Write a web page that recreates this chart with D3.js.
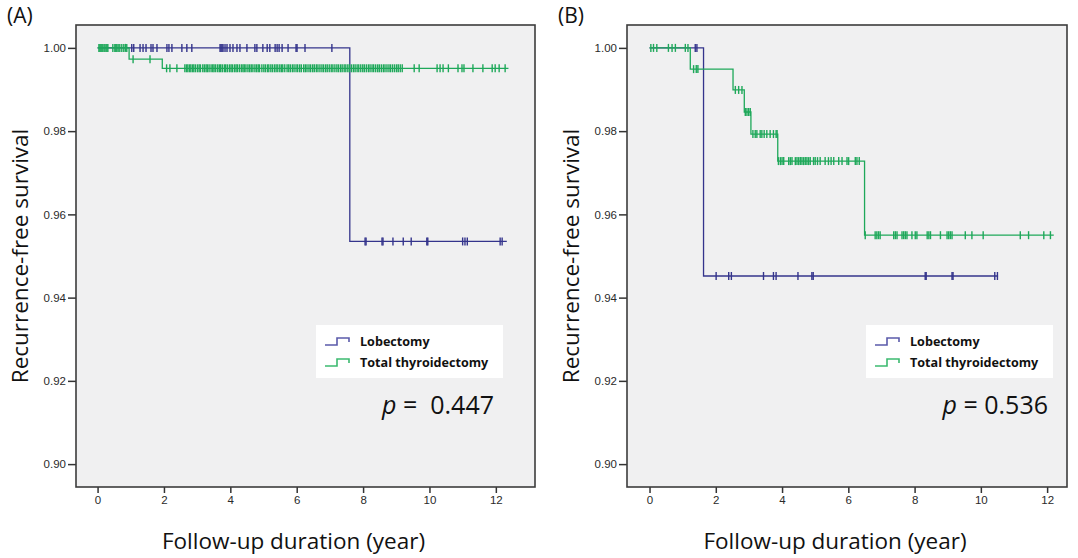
<!DOCTYPE html>
<html>
<head>
<meta charset="utf-8">
<script src="https://cdn.jsdelivr.net/npm/d3@7"></script>
<style>
  body { margin: 0; background: #fff; }
  svg { display: block; }
</style>
</head>
<body>
<svg id="chart" width="1078" height="558"></svg>
<script>
// axis ticks
const xTicks = [0, 2, 4, 6, 8, 10, 12];
const yTicks = [0.90, 0.92, 0.94, 0.96, 0.98, 1.00];
const groupNames = ["Lobectomy", "Total thyroidectomy"];

// panel A - step points [time, survival], end of follow-up, censored times
const aLobSteps = [[0, 1.0], [7.6, 0.9535]];
const aLobEnd = 12.33;
const aLobCensor = [1.03, 1.09, 1.28, 1.37, 1.46, 1.61, 1.67, 1.79, 2.09, 2.15, 2.24, 2.54, 2.69, 2.84,
    3.69, 3.72, 3.75, 3.78, 3.84, 3.90, 3.99, 4.08, 4.20, 4.29, 4.50, 4.74, 4.80, 4.98, 5.11, 5.19, 5.35,
    5.41, 5.47, 5.56, 5.74, 5.98, 6.01, 6.25, 7.06,
    8.06, 8.09, 8.57, 8.60, 8.90, 9.21, 9.45, 9.92, 9.95, 11.00, 11.07, 11.14, 12.13, 12.19];

const aTotSteps = [[0, 1.0], [0.95, 0.9973], [1.95, 0.9951]];
const aTotEnd = 12.38;
const aTotCensor = [0.04, 0.07, 0.10, 0.13, 0.16, 0.20, 0.25, 0.28, 0.31, 0.46, 0.52, 0.55, 0.58, 0.62, 0.67,
    0.73, 0.79, 0.84, 0.88, 1.07, 1.58,
    2.08, 2.18, 2.39, 2.63, 2.68, 2.72, 2.77, 2.81, 2.86, 2.90, 2.95, 3.01, 3.06, 3.10, 3.17, 3.22, 3.27,
    3.31, 3.36, 3.42, 3.47, 3.51, 3.56, 3.62, 3.67, 3.71, 3.76, 3.82, 3.86, 3.91, 3.97, 4.02, 4.06, 4.12,
    4.17, 4.21, 4.27, 4.33, 4.38, 4.42, 4.47, 4.53, 4.58, 4.63, 4.68, 4.74, 4.79, 4.84, 4.88, 4.95, 5.01,
    5.06, 5.12, 5.16, 5.22, 5.27, 5.33, 5.38, 5.43, 5.49, 5.54, 5.58, 5.64, 5.71, 5.76, 5.81, 5.87, 5.92,
    5.98, 6.03, 6.09, 6.14, 6.21, 6.26, 6.31, 6.37, 6.42, 6.48, 6.53, 6.59, 6.64, 6.70, 6.76, 6.81, 6.87,
    6.92, 6.98, 7.04, 7.09, 7.15, 7.21, 7.26, 7.32, 7.37, 7.43, 7.48, 7.54, 7.59, 7.65, 7.71, 7.76, 7.82,
    7.87, 7.93, 7.99, 8.04, 8.10, 8.16, 8.21, 8.27, 8.32, 8.38, 8.44, 8.49, 8.55, 8.61, 8.66, 8.72, 8.78,
    8.83, 8.89, 8.95, 9.01, 9.06, 9.12, 9.18,
    9.54, 9.69, 10.23, 10.32, 10.41, 10.57, 10.86, 10.98, 11.04, 11.31, 11.61, 11.89, 11.98, 12.10, 12.28];

// panel B
const bLobSteps = [[0, 1.0], [1.63, 0.9452]];
const bLobEnd = 10.52;
const bLobCensor = [1.38, 1.43, 2.01, 2.39, 2.47, 3.44, 3.74, 3.82, 4.48, 4.90, 4.94, 8.32, 8.35,
    9.13, 9.16, 10.42, 10.50];

const bTotSteps = [[0, 1.0], [1.23, 0.9949], [2.52, 0.9899], [2.86, 0.9846], [3.06, 0.9793],
    [3.87, 0.9728], [6.49, 0.9550]];
const bTotEnd = 12.2;
const bTotCensor = [0.04, 0.12, 0.22, 0.57, 0.68, 0.78, 1.08, 1.16, 1.33, 1.41, 1.46,
    2.59, 2.69, 2.79, 2.89, 2.94, 2.99, 3.04,
    3.12, 3.19, 3.24, 3.34, 3.39, 3.46, 3.54, 3.64, 3.74, 3.82,
    3.85, 3.89, 3.95, 4.00, 4.05, 4.20, 4.25, 4.30, 4.40, 4.45, 4.50, 4.55, 4.60, 4.65, 4.70, 4.75,
    4.80, 4.85, 4.95, 5.00, 5.07, 5.15, 5.30, 5.40, 5.48, 5.56, 5.71, 5.81, 5.96, 6.01, 6.21, 6.26, 6.33,
    6.51, 6.81, 6.86, 6.91, 6.96, 7.37, 7.42, 7.47, 7.62, 7.67, 7.72, 7.77, 7.92, 8.02, 8.07, 8.38,
    8.43, 8.48, 8.78, 8.98, 9.03, 9.08, 9.13, 9.53, 9.73, 10.07, 11.19, 11.44, 11.90, 12.10];

const colors = ["#34348c", "#1ea85a"];
const legendColors = ["#5b5bab", "#3cba70"];
const titleFont = "Open Sans, sans-serif";

const svg = d3.select("#chart");

const survAt = function (steps, t) {
    let s = steps[0][1];
    steps.forEach(p => { if (t >= p[0]) s = p[1]; });
    return s;
}

const drawPanel = function (cfg) {
    const x = d3.scaleLinear().domain(cfg.xDomain).range([cfg.left, cfg.right]);
    const y = d3.scaleLinear().domain([0.8945, 1.0055]).range([487, 25]);
    const g = svg.append("g");

    g.append("rect")
        .attr("x", cfg.left).attr("y", 25)
        .attr("width", cfg.right - cfg.left).attr("height", 462)
        .attr("fill", "#f0f0f1");

    // axes
    g.append("g")
        .attr("transform", `translate(0,487)`)
        .call(d3.axisBottom(x).tickValues(xTicks).tickSize(6).tickPadding(3).tickFormat(d3.format("d")))
        .call(a => a.select(".domain").remove());
    g.append("g")
        .attr("transform", `translate(${cfg.left},0)`)
        .call(d3.axisLeft(y).tickValues(yTicks).tickSize(8).tickPadding(2).tickFormat(d3.format(".2f")))
        .call(a => a.select(".domain").remove());
    g.selectAll(".tick text")
        .attr("font-family", "Liberation Sans, Arial, sans-serif")
        .attr("font-size", 11.5)
        .attr("fill", "#2a2a2a");
    g.selectAll(".tick line").attr("stroke", "#333").attr("stroke-width", 1.5);

    // curves
    cfg.series.forEach((s, i) => {
        let pts = [];
        s.steps.forEach(p => pts.push([p[0], p[1]]));
        pts.push([s.end, s.steps[s.steps.length - 1][1]]);
        const line = d3.line()
            .x(d => x(d[0])).y(d => y(d[1]))
            .curve(d3.curveStepAfter);
        g.append("path")
            .attr("d", line(pts))
            .attr("fill", "none")
            .attr("stroke", colors[i])
            .attr("stroke-width", 1.3);
        g.selectAll(null)
            .data(s.censor)
            .enter().append("line")
            .attr("x1", d => x(d)).attr("x2", d => x(d))
            .attr("y1", d => y(survAt(s.steps, d)) - 4)
            .attr("y2", d => y(survAt(s.steps, d)) + 4)
            .attr("stroke", colors[i])
            .attr("stroke-width", 1.4);
    });

    // frame
    g.append("rect")
        .attr("x", cfg.left).attr("y", 25)
        .attr("width", cfg.right - cfg.left).attr("height", 462)
        .attr("fill", "none")
        .attr("stroke", "#3c3c3c")
        .attr("stroke-width", 1.6);

    // legend
    const lg = g.append("g").attr("transform", `translate(${cfg.legendX},325)`);
    lg.append("rect").attr("width", 187).attr("height", 53).attr("fill", "#fff");
    groupNames.forEach((name, i) => {
        const ly = 17 + i * 21;
        lg.append("path")
            .attr("d", `M9,${ly + 3}H21V${ly - 4}H33V${ly}`)
            .attr("fill", "none")
            .attr("stroke", legendColors[i])
            .attr("stroke-width", 1.6);
        lg.append("text")
            .attr("x", 44).attr("y", ly + 4)
            .attr("font-family", titleFont)
            .attr("font-weight", "bold")
            .attr("font-size", 12.6)
            .attr("fill", "#111")
            .text(name);
    });

    // p value
    const pt = g.append("text")
        .attr("x", cfg.pRight).attr("y", 414)
        .attr("text-anchor", "end")
        .attr("font-family", titleFont)
        .attr("font-size", 25)
        .attr("fill", "#111");
    pt.append("tspan").attr("font-style", "italic").text("p");
    pt.append("tspan").text(cfg.pText);

    // titles
    g.append("text")
        .attr("x", (cfg.left + cfg.right) / 2 - 12).attr("y", 549)
        .attr("text-anchor", "middle")
        .attr("font-family", titleFont)
        .attr("font-size", 22.5)
        .attr("fill", "#111")
        .text("Follow-up duration (year)");
    g.append("text")
        .attr("transform", `translate(${cfg.left - 48},256) rotate(-90)`)
        .attr("text-anchor", "middle")
        .attr("font-family", titleFont)
        .attr("font-size", 22.5)
        .attr("fill", "#111")
        .text("Recurrence-free survival");
    g.append("text")
        .attr("x", cfg.left - 69).attr("y", 23)
        .attr("font-family", titleFont)
        .attr("font-size", 21)
        .attr("fill", "#111")
        .text(cfg.label);
}

drawPanel({
    label: "(A)", left: 76, right: 535, xDomain: [-0.65, 13.18],
    legendX: 316, pRight: 494, pText: "\u00a0=\u00a0\u00a00.447",
    series: [
        { steps: aLobSteps, end: aLobEnd, censor: aLobCensor },
        { steps: aTotSteps, end: aTotEnd, censor: aTotCensor }
    ]
});

drawPanel({
    label: "(B)", left: 627, right: 1067, xDomain: [-0.68, 12.6],
    legendX: 866, pRight: 1048, pText: "\u00a0=\u00a00.536",
    series: [
        { steps: bLobSteps, end: bLobEnd, censor: bLobCensor },
        { steps: bTotSteps, end: bTotEnd, censor: bTotCensor }
    ]
});
</script>
</body>
</html>
